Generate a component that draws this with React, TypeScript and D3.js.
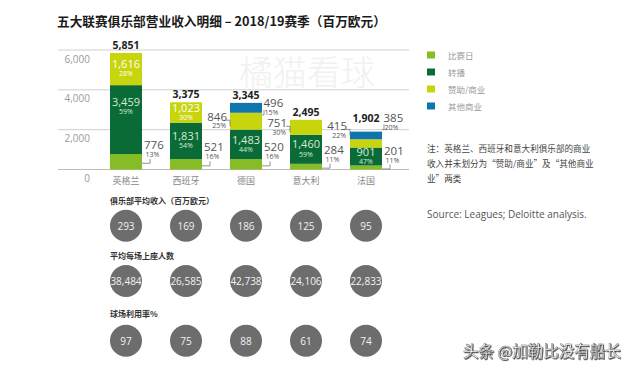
import React from 'react';
import * as d3 from 'd3';

const categories = ['英格兰', '西班牙', '德国', '意大利', '法国'];
const seriesNames = ['比赛日', '转播', '赞助/商业', '其他商业'];
const matchday = [776, 521, 520, 284, 201];
const broadcast = [3459, 1831, 1483, 1460, 901];
const commercial = [1616, 1023, 846, 751, 415];
const otherCommercial = [0, 0, 496, 0, 385];
const totals = [5851, 3375, 3345, 2495, 1902];
const matchdayPct = [13, 16, 16, 11, 11];
const broadcastPct = [59, 54, 44, 59, 47];
const commercialPct = [28, 30, 25, 30, 22];
const otherPct = [0, 0, 15, 0, 20];
const commercialSide = ['inside', 'inside', 'left', 'left', 'left'];
const yTicks = [0, 2000, 4000, 6000];
const avgRevenue = [293, 169, 186, 125, 95];
const attendance = [38484, 26585, 42738, 24106, 22833];
const utilization = [97, 75, 88, 61, 74];
const rowTitles = ['俱乐部平均收入（百万欧元）', '平均每场上座人数', '球场利用率%'];
const noteLines = ['注：英格兰、西班牙和意大利俱乐部的商业', '收入并未划分为“赞助/商业”及“其他商业', '业”两类'];
const sourceText = 'Source: Leagues; Deloitte analysis.';
const titleText = '五大联赛俱乐部营业收入明细 – 2018/19赛季（百万欧元）';
const watermark = '橘猫看球';
const credit = '头条 @加勒比没有船长';

const COLORS = ['#86bc25', '#0b6b36', '#c8d40c', '#0e76ac'];
const CJK = '"Noto Sans CJK SC", "Noto Sans", sans-serif';
const LAT = '"Open Sans", "Noto Sans", sans-serif';

function Pair(props: { x: number; y: number; anchor?: string; value: string; pct: string; fill: string; vSize: number; pShift?: number }) {
  const { x, y, anchor = 'start', value, pct, fill, vSize, pShift = 0 } = props;
  return (
    <text x={x} y={y + vSize * 0.36} textAnchor={anchor} fontFamily={LAT} fill={fill}>
      <tspan x={x} fontSize={vSize}>{value}</tspan>
      <tspan x={x + pShift} dy={9.6 - vSize * 0.36 + 2.5} fontSize={7}>{pct}</tspan>
    </text>
  );
}

export default function App() {
  const W = 640, H = 369;
  const x = d3.scaleBand<string>().domain(categories).range([96, 396]).padding(0);
  const barW = 32;
  const cx = (c: string) => (x(c) as number) + x.bandwidth() / 2;
  const y = d3.scaleLinear().domain([0, 6000]).range([169.5, 50]);
  const fmt = d3.format(',');

  const rows = categories.map((c, i) => ({
    cat: c,
    s0: matchday[i], s1: broadcast[i], s2: commercial[i], s3: otherCommercial[i],
  }));
  const stack = d3.stack<any>().keys(['s0', 's1', 's2', 's3']);
  const layers = stack(rows);
  const pcts = [matchdayPct, broadcastPct, commercialPct, otherPct];
  const vals = [matchday, broadcast, commercial, otherCommercial];

  const labels: React.ReactNode[] = [];
  categories.forEach((c, i) => {
    const left = cx(c) - barW / 2;
    const right = cx(c) + barW / 2;
    layers.forEach((layer, k) => {
      const v = vals[k][i];
      if (!v) return;
      const top = y(layer[i][1]);
      const bot = y(layer[i][0]);
      const mid = (top + bot) / 2;
      const h = bot - top;
      const key = `${c}-${k}`;
      let side = 'inside';
      if (k === 0) side = 'right';
      if (k === 2) side = commercialSide[i];
      if (k === 3) side = 'right';
      const pct = `${pcts[k][i]}%`;
      if (k === 1 || side === 'inside') {
        const bc = Math.min(mid, top + 22);
        const col = k === 1 ? '#d6ead6' : '#ffffff';
        labels.push(<Pair key={key} x={cx(c)} y={bc - 4.8} anchor="middle" value={fmt(v)} pct={pct} fill={col} vSize={11} />);
      } else if (k === 0) {
        const tx = right + 2;
        labels.push(
          <g key={key}>
            <Pair x={tx} y={mid - 17} value={fmt(v)} pct={pct} fill="#555" vSize={11.5} pShift={1.5} />
            <path d={`M${right},${mid + 1.5}H${right + 8}V${mid - 3}`} fill="none" stroke="#777" strokeWidth={0.8} />
          </g>
        );
      } else {
        const bc = mid - (h < 9 ? 13 : 0);
        if (side === 'right') {
          const tx = right + 1.5;
          labels.push(
            <g key={key}>
              <Pair x={tx} y={bc - 4.8} value={fmt(v)} pct={pct} fill="#555" vSize={11.5} pShift={1} />
              <path d={`M${right},${bc + 7}H${right + 2}V${bc + 2}`} fill="none" stroke="#777" strokeWidth={0.8} />
            </g>
          );
        } else {
          const tx = left - 3;
          labels.push(
            <g key={key}>
              <Pair x={tx} y={bc - 4.8} anchor="end" value={fmt(v)} pct={pct} fill="#555" vSize={11.5} pShift={-1} />
              <path d={`M${left - 4},${bc - 1}H${left}V${bc + 5}`} fill="none" stroke="#777" strokeWidth={0.8} />
            </g>
          );
        }
      }
    });
    const topVal = totals[i];
    const topY = y(topVal);
    const lastK = otherCommercial[i] ? 3 : 2;
    const topSegH = y(0) - y(vals[lastK][i]);
    const ty = topY - 8 - (topSegH < 9 ? 6 : 0);
    labels.push(
      <text key={`${c}-tot`} x={cx(c)} y={ty} textAnchor="middle" dominantBaseline="central" fontFamily={LAT} fontSize={10.5} fontWeight="bold" fill="#222">{fmt(topVal)}</text>
    );
  });

  const circleRows = [avgRevenue, attendance, utilization];
  const rowTitleY = [200.7, 255, 313.3];
  const rowCircleY = [225.7, 281, 340.7];

  return (
    <svg width={W} height={H} viewBox={`0 0 ${W} ${H}`} style={{ position: 'absolute', left: 0, top: 0, display: 'block', background: '#fff' }}>
      <defs>
        <filter id="shadow" x="-10%" y="-30%" width="120%" height="160%">
          <feDropShadow dx={0.8} dy={0.8} stdDeviation={0.6} floodColor="#222" floodOpacity={0.9} />
        </filter>
      </defs>
      <rect x={0} y={0} width={W} height={H} fill="#ffffff" />
      <text x={57} y={20} dominantBaseline="central" fontFamily={CJK} fontSize={12.7} fontWeight="bold" fill="#1a1a1a">{titleText}</text>
      <text x={307} y={70} textAnchor="middle" dominantBaseline="central" fontFamily={CJK} fontSize={34} fontWeight={300} fill="#f1f1f1">{watermark}</text>
      {yTicks.map(t => (
        <g key={t}>
          <line x1={58} x2={409} y1={y(t)} y2={y(t)} stroke={t === 0 ? '#bdbdbd' : '#cfcfcf'} strokeWidth={1} />
          <text x={90} y={y(t) + 8.5} textAnchor="end" dominantBaseline="central" fontFamily={LAT} fontSize={10} fill="#9a9a9a">{fmt(t)}</text>
        </g>
      ))}
      {layers.map((layer, k) => (
        <g key={k} fill={COLORS[k]}>
          {layer.map((d, i) => (d[1] - d[0] > 0 ? (
            <rect key={i} x={cx(categories[i]) - barW / 2} width={barW} y={y(d[1])} height={y(d[0]) - y(d[1])} />
          ) : null))}
        </g>
      ))}
      {labels}
      {categories.map(c => (
        <text key={c} x={cx(c)} y={180} textAnchor="middle" dominantBaseline="central" fontFamily={CJK} fontSize={9} fill="#888">{c}</text>
      ))}
      {seriesNames.map((n, k) => (
        <g key={n}>
          <rect x={427} y={51.5 + k * 17} width={8} height={7} fill={COLORS[k]} />
          <text x={448} y={55 + k * 17} dominantBaseline="central" fontFamily={CJK} fontSize={8.5} fill="#9a9a9a">{n}</text>
        </g>
      ))}
      {noteLines.map((l, j) => (
        <text key={j} x={427} y={148.3 + j * 14.8} dominantBaseline="central" fontFamily={CJK} fontSize={8.6} fill="#444">{l}</text>
      ))}
      <text x={427} y={213.5} dominantBaseline="central" fontFamily={LAT} fontSize={10} fill="#555">{sourceText}</text>
      {circleRows.map((vs, r) => (
        <g key={r}>
          <text x={110} y={rowTitleY[r]} dominantBaseline="central" fontFamily={CJK} fontSize={8} fontWeight="bold" fill="#333">{rowTitles[r]}</text>
          {vs.map((v, i) => (
            <g key={i}>
              <circle cx={cx(categories[i])} cy={rowCircleY[r]} r={16} fill="#6d6d6d" />
              <text x={cx(categories[i])} y={rowCircleY[r]} textAnchor="middle" dominantBaseline="central" fontFamily={LAT} fontSize={10} fill="#f2f2f2">{fmt(v)}</text>
            </g>
          ))}
        </g>
      ))}
      <text x={463} y={350} dominantBaseline="central" fontFamily={CJK} fontSize={15.5} fill="#ffffff" stroke="#666" strokeWidth={0.4} filter="url(#shadow)">{credit}</text>
    </svg>
  );
}
